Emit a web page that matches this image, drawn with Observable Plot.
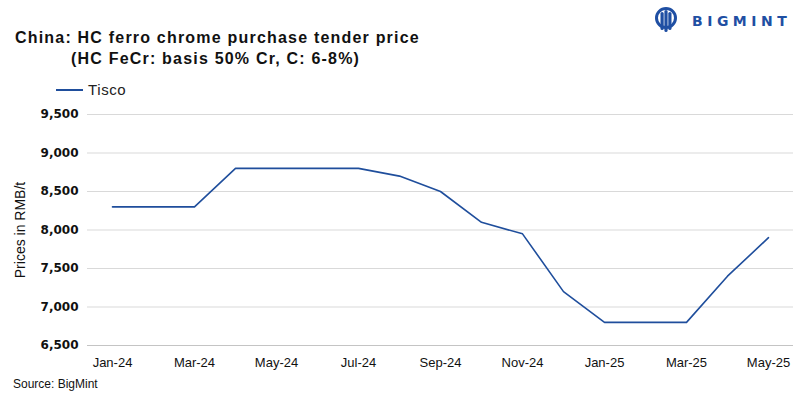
<!DOCTYPE html>
<html>
<head>
<meta charset="utf-8">
<script src="https://cdn.jsdelivr.net/npm/d3@7"></script>
<script src="https://cdn.jsdelivr.net/npm/@observablehq/plot@0.6"></script>
<style>
  html, body { margin: 0; padding: 0; background: #fff; }
  #wrap { position: relative; width: 800px; height: 399px; overflow: hidden; font-family: "Liberation Sans", Arial, sans-serif; }
  .t { position: absolute; white-space: nowrap; line-height: 16px; color: #111; }
  #title1 { left: 15px; top: 30px; font-size: 16px; font-weight: bold; letter-spacing: 1.2px; }
  #title2 { left: 71px; top: 51px; font-size: 16px; font-weight: bold; letter-spacing: 1.2px; }
  #legend { left: 56px; top: 82px; font-size: 15px; letter-spacing: 0.6px; color: #222; }
  #legend .sw { display: inline-block; width: 27px; height: 2px; background: #1f4e9c; vertical-align: middle; margin-right: 5px; position: relative; top: -1px; }
  #source { left: 13px; top: 377px; font-size: 12px; line-height: 14px; color: #111; }
  #logo { position: absolute; left: 652px; top: 4px; width: 145px; height: 32px; }
  #chart { position: absolute; left: 0; top: 100px; }
</style>
</head>
<body>
<div id="wrap">
  <div class="t" id="title1">China: HC ferro chrome purchase tender price</div>
  <div class="t" id="title2">(HC FeCr: basis 50% Cr, C: 6-8%)</div>
  <div class="t" id="legend"><span class="sw"></span>Tisco</div>
  <svg id="logo" viewBox="0 0 145 32" xmlns="http://www.w3.org/2000/svg">
    <circle cx="14" cy="14" r="9.5" fill="none" stroke="#1f4fa3" stroke-width="3"/>
    <rect x="8.5" y="8" width="3.2" height="18" rx="1.6" fill="#1f4fa3"/>
    <rect x="12.4" y="6" width="3.2" height="22" rx="1.6" fill="#1f4fa3"/>
    <rect x="16.3" y="8" width="3.2" height="18" rx="1.6" fill="#1f4fa3"/>
    <text x="40" y="22" font-family="DejaVu Sans" font-weight="bold" font-size="14" letter-spacing="4.5" fill="#1f4fa3">BIGMINT</text>
  </svg>
  <div id="chart"></div>
  <div class="t" id="source">Source: BigMint</div>
</div>
<script>
const months = ["Jan-24","Feb-24","Mar-24","Apr-24","May-24","Jun-24","Jul-24","Aug-24","Sep-24","Oct-24","Nov-24","Dec-24","Jan-25","Feb-25","Mar-25","Apr-25","May-25"];
const tisco = [8300, 8300, 8300, 8800, 8800, 8800, 8800, 8700, 8500, 8100, 7950, 7200, 6800, 6800, 6800, 7400, 7900];
const xTickLabels = ["Jan-24","Mar-24","May-24","Jul-24","Sep-24","Nov-24","Jan-25","Mar-25","May-25"];
const yTicks = [6500, 7000, 7500, 8000, 8500, 9000, 9500];
const yLabel = "Prices in RMB/t";

const data = months.map((m, i) => ({month: m, value: tisco[i]}));

const chart = Plot.plot({
  width: 800,
  height: 272,
  marginTop: 14,
  marginBottom: 27,
  marginLeft: 87,
  marginRight: 7,
  style: {fontFamily: "Liberation Sans, Arial, sans-serif", background: "transparent"},
  x: {type: "point", domain: months, padding: 0.5, align: 0.5},
  y: {domain: [6500, 9500]},
  marks: [
    Plot.gridY(yTicks.filter(d => d !== 6500), {stroke: "#d9d9d9", strokeOpacity: 1, strokeWidth: 1}),
    Plot.ruleY([6500], {stroke: "#c4c4c4", strokeWidth: 1.2}),
    Plot.axisY(yTicks, {tickSize: 0, tickPadding: 9, label: null, tickFormat: d3.format(",")
      , fontFamily: "DejaVu Sans", fontWeight: "bold", fontSize: 12, fill: "#111"}),
    Plot.axisX(xTickLabels, {tickSize: 0, tickPadding: 12, label: null, fontSize: 13, fill: "#111"}),
    Plot.text([yLabel], {frameAnchor: "left", textAnchor: "middle", rotate: -90, dx: -67, fontSize: 14, fill: "#111"}),
    Plot.line(data, {x: "month", y: "value", stroke: "#1f4e9c", strokeWidth: 1.6})
  ]
});
document.getElementById("chart").appendChild(chart);
</script>
</body>
</html>
